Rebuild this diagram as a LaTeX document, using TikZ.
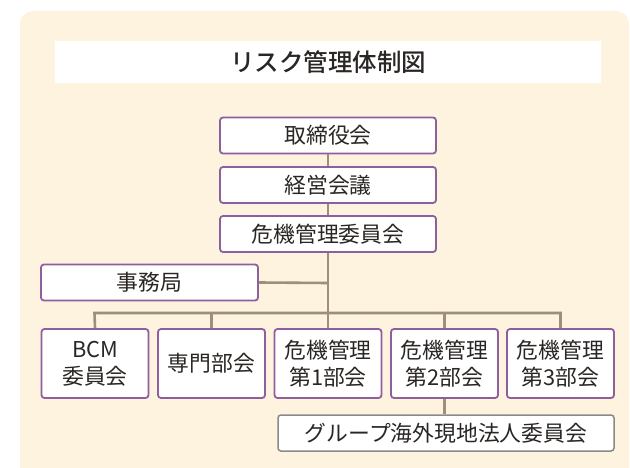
\documentclass[tikz,border=0pt]{standalone}
\usepackage{fontspec}
\setmainfont{Noto Sans CJK JP}
\newfontfamily\titlefont{Noto Sans CJK JP Medium}
\definecolor{bgcream}{HTML}{FDF3DF}
\definecolor{boxpurple}{HTML}{8E5E9E}
\definecolor{linetaupe}{HTML}{9E8E7E}
\definecolor{txtdark}{HTML}{2A2624}
\definecolor{boxgray}{HTML}{8A8A8A}
\tikzset{
  orgbox/.style={draw=boxpurple, line width=1.8pt, fill=white, rounded corners=3pt, inner sep=0pt, text=txtdark, font=\fontsize{21.8}{27}\selectfont, align=center},
  graybox/.style={orgbox, draw=boxgray, line width=1.5pt},
  conn/.style={draw=linetaupe, line width=2.6pt}
}
\begin{document}
\begin{tikzpicture}[x=1pt,y=-1pt]
\useasboundingbox (0,0) rectangle (630,468);
\begin{scope}
\clip (0,0) rectangle (630,468);
\fill[bgcream, rounded corners=13pt] (20,11) rectangle (629,490);
\end{scope}
\fill[white] (55,41) rectangle (601,83);
\node[text=txtdark, font=\fontsize{24.5}{28}\titlefont] (title) at (328,62) {リスク管理体制図};

\coordinate (j1) at (328,283);
\coordinate (hl) at (94.5,313);
\coordinate (hr) at (560.5,313);

\node[orgbox, minimum width=216pt, minimum height=36pt] (torishimari) at (328,135.5) {取締役会};
\node[orgbox, minimum width=216pt, minimum height=36pt] (keiei) at (328,185) {経営会議};
\node[orgbox, minimum width=216pt, minimum height=36pt] (kiki) at (328,234) {危機管理委員会};
\node[orgbox, minimum width=217pt, minimum height=36pt] (jimu) at (149.5,282.5) {事務局};

\node[orgbox, minimum width=107pt, minimum height=69pt] (bcm) at (95,363.5) {BCM\\委員会};
\node[orgbox, minimum width=107pt, minimum height=69pt] (senmon) at (211.5,363.5) {専門部会};
\node[orgbox, minimum width=107pt, minimum height=69pt] (b1) at (328,363.5) {危機管理\\第1部会};
\node[orgbox, minimum width=107pt, minimum height=69pt] (b2) at (444.5,363.5) {危機管理\\第2部会};
\node[orgbox, minimum width=107pt, minimum height=69pt] (b3) at (560.5,363.5) {危機管理\\第3部会};
\node[graybox, minimum width=336pt, minimum height=36pt] (group) at (446,433) {グループ海外現地法人委員会};

\path[conn] (torishimari.south) -- (keiei.north);
\path[conn] (keiei.south) -- (kiki.north);
\path[conn] (kiki.south) -- (b1.north);
\path[conn] (jimu.east) -- (j1);
\path[conn] (bcm.north) -- (hl) -- (hr) -- (b3.north);
\path[conn] (senmon.north) -- (senmon.north |- hl);
\path[conn] (b2.north) -- (b2.north |- hl);
\path[conn] (b2.south) -- (b2.south |- group.north);
\end{tikzpicture}
\end{document}
